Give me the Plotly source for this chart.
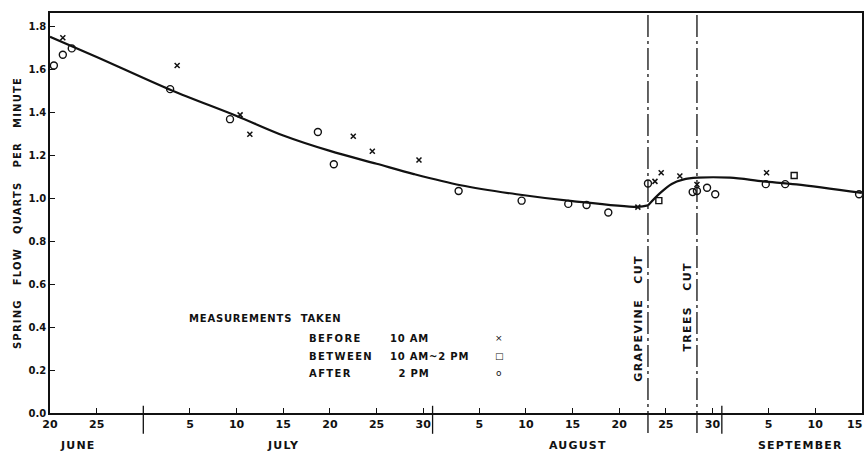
import plotly.graph_objects as go
import pandas as pd

YEAR = "1960-"

def dates(items):
    return pd.to_datetime([YEAR + s for s in items], format="mixed")

# --- measurements (date, spring flow in quarts per minute) ---
before_10am_dates = ["06-21 09:00", "07-03 15:00", "07-10 09:00", "07-11 10:00",
                     "07-22 12:00", "07-24 13:00", "07-29 13:00", "08-22 00:00",
                     "08-23 20:00", "08-24 12:00", "08-26 12:00", "08-28 08:00",
                     "09-04 19:00"]
before_10am_flow = [1.75, 1.62, 1.39, 1.30, 1.29, 1.22, 1.18, 0.96,
                    1.08, 1.12, 1.105, 1.065, 1.12]

midday_dates = ["08-24 06:00", "09-07 18:00"]
midday_flow = [0.99, 1.107]

after_2pm_dates = ["06-20 10:00", "06-21 09:00", "06-22 08:00", "07-02 21:00",
                   "07-09 07:00", "07-18 17:00", "07-20 10:00", "08-02 19:00",
                   "08-09 13:00", "08-14 13:00", "08-16 12:00", "08-18 20:00",
                   "08-23 02:00", "08-27 21:00", "08-28 08:00", "08-29 10:00",
                   "08-30 07:00", "09-04 17:00", "09-06 19:00", "09-14 17:00"]
after_2pm_flow = [1.62, 1.67, 1.70, 1.51, 1.37, 1.31, 1.16, 1.035,
                  0.99, 0.975, 0.97, 0.935, 1.07, 1.03, 1.035, 1.05,
                  1.02, 1.067, 1.067, 1.02]

# --- fitted trend: recession before the cutting, recovery after ---
recession_dates = ["06-20 00:00", "06-25 00:00", "07-03 00:00", "07-10 00:00",
                   "07-15 00:00", "07-20 00:00", "07-25 00:00", "07-29 00:00",
                   "08-03 00:00", "08-09 00:00", "08-15 00:00", "08-22 00:00", "08-23 02:00"]
recession_flow = [1.754, 1.66, 1.505, 1.385, 1.294, 1.222, 1.162,
                  1.114, 1.062, 1.02, 0.988, 0.961, 0.968]

recovery_dates = ["08-23 02:00", "08-24 09:00", "08-25 15:00", "08-26 20:00",
                  "08-28 10:00", "08-31 21:00", "09-04 10:00", "09-08 00:00", "09-15 00:00"]
recovery_flow = [0.968, 1.025, 1.068, 1.088, 1.097, 1.097, 1.08, 1.066, 1.026]

# --- events ---
event_dates = ["08-23 02:00", "08-28 08:00"]
event_labels = ["GRAPEVINE   CUT", "TREES   CUT"]

# --- axes ---
x_tick_dates = ["06-20", "06-25", "07-05", "07-10", "07-15", "07-20", "07-25", "07-30",
                "08-05", "08-10", "08-15", "08-20", "08-25", "08-30",
                "09-05", "09-10", "09-15"]
x_tick_text = ["20", "25", "5", "10", "15", "20", "25", "30",
               "5", "10", "15", "20", "25", "30", "5", "10", "15"]
month_separators = ["06-30", "07-31", "08-31"]
month_names = ["JUNE", "JULY", "AUGUST", "SEPTEMBER"]
month_label_dates = ["06-23 00:00", "07-15 00:00", "08-15 14:00", "09-08 10:00"]

y_tick_vals = [0.0, 0.2, 0.4, 0.6, 0.8, 1.0, 1.2, 1.4, 1.6, 1.8]
y_tick_text = ["0.0", "0.2", "0.4", "0.6", "0.8", "1.0", "1.2", "1.4", "1.6", "1.8"]

FONT = "DejaVu Sans"
INK = "#111111"

def spaced(text, px=1.5):
    return f'<span style="letter-spacing:{px}px">{text}</span>'

def font(size):
    return dict(family=FONT, size=size, color=INK, weight="bold")

fig = go.Figure()

for d, v in [(recession_dates, recession_flow), (recovery_dates, recovery_flow)]:
    fig.add_trace(go.Scatter(
        x=dates(d), y=v, mode="lines",
        line=dict(color=INK, width=2.2, shape="spline", smoothing=0.9),
        hoverinfo="skip"))

fig.add_trace(go.Scatter(
    x=dates(before_10am_dates), y=before_10am_flow, mode="markers",
    marker=dict(symbol="x-thin", size=5, line=dict(color=INK, width=1.5))))
fig.add_trace(go.Scatter(
    x=dates(midday_dates), y=midday_flow, mode="markers",
    marker=dict(symbol="square-open", size=6, color=INK, line=dict(width=1.4))))
fig.add_trace(go.Scatter(
    x=dates(after_2pm_dates), y=after_2pm_flow, mode="markers",
    marker=dict(symbol="circle-open", size=7, color=INK, line=dict(width=1.4))))

shapes = []
for d in dates(event_dates):
    shapes.append(dict(type="line", xref="x", yref="paper", x0=d, x1=d, y0=-0.05, y1=1.0,
                       line=dict(color=INK, width=1.3, dash="22px,4px,3px,4px")))
for d in dates(month_separators):
    shapes.append(dict(type="line", xref="x", yref="paper", x0=d, x1=d, y0=-0.052, y1=0.018,
                       line=dict(color=INK, width=1.3)))

annotations = []
for name, d in zip(month_names, dates(month_label_dates)):
    annotations.append(dict(x=d, y=-0.08, xref="x", yref="paper", text=spaced(name, 1.2),
                            showarrow=False, xanchor="center", yanchor="middle", font=font(11)))

for label, d, yc in zip(event_labels, dates(event_dates), [0.237, 0.265]):
    annotations.append(dict(x=d, y=yc, xref="x", yref="paper", text=spaced(label, 1.3),
                            textangle=-90, showarrow=False, xanchor="right", yanchor="middle",
                            xshift=-1, font=font(11)))

annotations.append(dict(x=-0.0406, y=0.5, xref="paper", yref="paper",
                        text=spaced("SPRING   FLOW   QUARTS   PER   MINUTE", 1.2),
                        textangle=-90, showarrow=False, xanchor="center", yanchor="middle",
                        font=font(10)))

# the closing day label sits flush with the right edge of the frame
annotations.append(dict(x=dates(x_tick_dates[-1:])[0], y=-0.0275, xref="x", yref="paper",
                        text=x_tick_text[-1], showarrow=False, xanchor="right",
                        yanchor="middle", xshift=2, font=font(11)))

# key to the measurement times
annotations.append(dict(x=0.1687, y=0.2375, xref="paper", yref="paper",
                        text=spaced("MEASUREMENTS  TAKEN", 0.8), showarrow=False,
                        xanchor="left", yanchor="middle", font=font(10)))
key_rows = [("BEFORE", "10 AM", "×"), ("BETWEEN", "10 AM~2 PM", "□"), ("AFTER", "  2 PM", "o")]
for (when, hour, sym), yk in zip(key_rows, [0.1875, 0.1425, 0.1]):
    annotations.append(dict(x=0.3165, y=yk, xref="paper", yref="paper", text=spaced(when, 1.4),
                            showarrow=False, xanchor="left", yanchor="middle", font=font(10)))
    annotations.append(dict(x=0.4163, y=yk, xref="paper", yref="paper", text=spaced(hour, 0.8),
                            showarrow=False, xanchor="left", yanchor="middle", font=font(10)))
    annotations.append(dict(x=0.553, y=yk, xref="paper", yref="paper", text=sym,
                            showarrow=False, xanchor="center", yanchor="middle",
                            font=dict(family=FONT, size=9, color=INK)))

fig.update_layout(
    width=866, height=453,
    margin=dict(l=50, r=4, t=13, b=40),
    paper_bgcolor="white", plot_bgcolor="white",
    showlegend=False,
    shapes=shapes, annotations=annotations,
    font=dict(family=FONT, size=12, color=INK),
)
fig.update_xaxes(
    type="date",
    range=[pd.Timestamp(YEAR + "06-20"), pd.Timestamp(YEAR + "09-15 00:30")],
    tickvals=dates(x_tick_dates), ticktext=x_tick_text[:-1] + [""],
    ticks="inside", ticklen=5, tickwidth=1.2, tickcolor=INK,
    showline=True, linecolor=INK, linewidth=1.6, mirror=True,
    showgrid=False, zeroline=False, tickfont=font(11), automargin=False,
)
fig.update_yaxes(
    range=[0, 1.865], tickvals=y_tick_vals, ticktext=y_tick_text,
    ticks="inside", ticklen=5, tickwidth=1.2, tickcolor=INK,
    showline=True, linecolor=INK, linewidth=1.6, mirror=True,
    showgrid=False, zeroline=False, tickfont=font(10), automargin=False,
)

fig.write_html("out.html")
